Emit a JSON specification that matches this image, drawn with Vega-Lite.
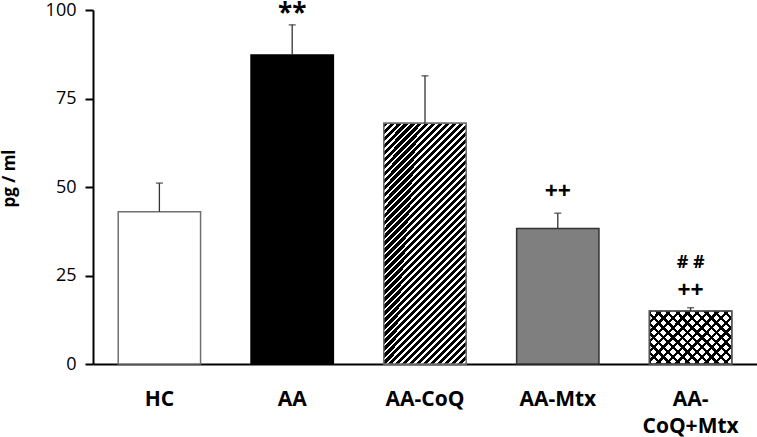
{
 "$schema": "https://vega.github.io/schema/vega-lite/v6.json",
 "width": 664, "height": 354,
 "autosize": "none",
 "padding": {"left": 93, "top": 10, "right": 0, "bottom": 73},
 "background": "white",
 "config": {
  "view": {"stroke": null},
  "font": "Open Sans",
  "axisX": {"domainColor": "black", "domainWidth": 2, "ticks": false, "labelFontSize": 21, "labelFontWeight": "bold", "labelColor": "black", "labelPadding": 24, "labelAngle": 0, "labelLineHeight": 27, "grid": false},
  "axisY": {"domainColor": "black", "domainWidth": 2, "ticks": true, "tickColor": "black", "tickWidth": 2, "tickSize": 8, "labelFontSize": 18, "labelColor": "black", "labelPadding": 9, "grid": false, "titleFontSize": 17, "titleFontWeight": "bold", "titleColor": "black", "titleX": -79, "titleY": 168, "titleBaseline": "alphabetic"}
 },
 "datasets": {
  "bars": [
   {"group": "HC", "mean": 43, "upper": 51.1},
   {"group": "AA", "mean": 87.3, "upper": 95.8},
   {"group": "AA-CoQ", "mean": 68, "upper": 81.4},
   {"group": "AA-Mtx", "mean": 38.3, "upper": 42.6},
   {"group": "AA-CoQ+Mtx", "mean": 15, "upper": 15.9}
  ],
  "notes": [
   {"group": "AA", "y": 98.8, "label": "**"},
   {"group": "AA-Mtx", "y": 48.6, "label": "++"},
   {"group": "AA-CoQ+Mtx", "y": 28.5, "label": "# #"},
   {"group": "AA-CoQ+Mtx", "y": 20.5, "label": "++"}
  ]
 },
 "encoding": {
  "x": {"field": "group", "type": "nominal", "sort": ["HC", "AA", "AA-CoQ", "AA-Mtx", "AA-CoQ+Mtx"], "title": null,
        "scale": {"paddingInner": 0.38, "paddingOuter": 0.19},
        "axis": {"labelExpr": "datum.value == 'AA-CoQ+Mtx' ? ['AA-', 'CoQ+Mtx'] : datum.label"}}
 },
 "layer": [
  {
   "data": {"name": "bars"},
   "mark": {"type": "bar", "strokeWidth": 1.5},
   "encoding": {
    "y": {"field": "mean", "type": "quantitative", "title": "pg / ml", "scale": {"domain": [0, 100], "nice": false}, "axis": {"values": [0, 25, 50, 75, 100]}},
    "fill": {"field": "group", "type": "nominal", "legend": null, "scale": {"domain": ["HC", "AA", "AA-CoQ", "AA-Mtx", "AA-CoQ+Mtx"], "range": ["#ffffff", "#000000", "#ffffff", "#7f7f7f", "#ffffff"]}},
    "stroke": {"field": "group", "type": "nominal", "legend": null, "scale": {"domain": ["HC", "AA", "AA-CoQ", "AA-Mtx", "AA-CoQ+Mtx"], "range": ["#707070", "#000000", "#707070", "#333333", "#555555"]}}
   }
  },
  {
   "data": {"name": "bars"},
   "transform": [{"filter": "datum.group == 'AA-CoQ'"}],
   "mark": {"type": "bar", "stroke": "#707070", "strokeWidth": 1.5,
    "fill": {"gradient": "linear", "x1": 0, "y1": 0, "x2": 0.4584, "y2": 1.3294, "stops": [
{"offset":0,"color":"#000"},{"offset":0.01172,"color":"#000"},{"offset":0.01172,"color":"#fff"},{"offset":0.01953,"color":"#fff"},
{"offset":0.01953,"color":"#000"},{"offset":0.03125,"color":"#000"},{"offset":0.03125,"color":"#fff"},{"offset":0.03906,"color":"#fff"},
{"offset":0.03906,"color":"#000"},{"offset":0.05078,"color":"#000"},{"offset":0.05078,"color":"#fff"},{"offset":0.05859,"color":"#fff"},
{"offset":0.05859,"color":"#000"},{"offset":0.07031,"color":"#000"},{"offset":0.07031,"color":"#fff"},{"offset":0.07813,"color":"#fff"},
{"offset":0.07813,"color":"#000"},{"offset":0.08984,"color":"#000"},{"offset":0.08984,"color":"#fff"},{"offset":0.09766,"color":"#fff"},
{"offset":0.09766,"color":"#000"},{"offset":0.10938,"color":"#000"},{"offset":0.10938,"color":"#fff"},{"offset":0.11719,"color":"#fff"},
{"offset":0.11719,"color":"#000"},{"offset":0.12891,"color":"#000"},{"offset":0.12891,"color":"#fff"},{"offset":0.13672,"color":"#fff"},
{"offset":0.13672,"color":"#000"},{"offset":0.14844,"color":"#000"},{"offset":0.14844,"color":"#fff"},{"offset":0.15625,"color":"#fff"},
{"offset":0.15625,"color":"#000"},{"offset":0.16797,"color":"#000"},{"offset":0.16797,"color":"#fff"},{"offset":0.17578,"color":"#fff"},
{"offset":0.17578,"color":"#000"},{"offset":0.1875,"color":"#000"},{"offset":0.1875,"color":"#fff"},{"offset":0.19531,"color":"#fff"},
{"offset":0.19531,"color":"#000"},{"offset":0.20703,"color":"#000"},{"offset":0.20703,"color":"#fff"},{"offset":0.21484,"color":"#fff"},
{"offset":0.21484,"color":"#000"},{"offset":0.22656,"color":"#000"},{"offset":0.22656,"color":"#fff"},{"offset":0.23438,"color":"#fff"},
{"offset":0.23438,"color":"#000"},{"offset":0.24609,"color":"#000"},{"offset":0.24609,"color":"#fff"},{"offset":0.25391,"color":"#fff"},
{"offset":0.25391,"color":"#000"},{"offset":0.26563,"color":"#000"},{"offset":0.26563,"color":"#fff"},{"offset":0.27344,"color":"#fff"},
{"offset":0.27344,"color":"#000"},{"offset":0.28516,"color":"#000"},{"offset":0.28516,"color":"#fff"},{"offset":0.29297,"color":"#fff"},
{"offset":0.29297,"color":"#000"},{"offset":0.30469,"color":"#000"},{"offset":0.30469,"color":"#fff"},{"offset":0.3125,"color":"#fff"},
{"offset":0.3125,"color":"#000"},{"offset":0.32422,"color":"#000"},{"offset":0.32422,"color":"#fff"},{"offset":0.33203,"color":"#fff"},
{"offset":0.33203,"color":"#000"},{"offset":0.34375,"color":"#000"},{"offset":0.34375,"color":"#fff"},{"offset":0.35156,"color":"#fff"},
{"offset":0.35156,"color":"#000"},{"offset":0.36328,"color":"#000"},{"offset":0.36328,"color":"#fff"},{"offset":0.37109,"color":"#fff"},
{"offset":0.37109,"color":"#000"},{"offset":0.38281,"color":"#000"},{"offset":0.38281,"color":"#fff"},{"offset":0.39063,"color":"#fff"},
{"offset":0.39063,"color":"#000"},{"offset":0.40234,"color":"#000"},{"offset":0.40234,"color":"#fff"},{"offset":0.41016,"color":"#fff"},
{"offset":0.41016,"color":"#000"},{"offset":0.42188,"color":"#000"},{"offset":0.42188,"color":"#fff"},{"offset":0.42969,"color":"#fff"},
{"offset":0.42969,"color":"#000"},{"offset":0.44141,"color":"#000"},{"offset":0.44141,"color":"#fff"},{"offset":0.44922,"color":"#fff"},
{"offset":0.44922,"color":"#000"},{"offset":0.46094,"color":"#000"},{"offset":0.46094,"color":"#fff"},{"offset":0.46875,"color":"#fff"},
{"offset":0.46875,"color":"#000"},{"offset":0.48047,"color":"#000"},{"offset":0.48047,"color":"#fff"},{"offset":0.48828,"color":"#fff"},
{"offset":0.48828,"color":"#000"},{"offset":0.5,"color":"#000"},{"offset":0.5,"color":"#fff"},{"offset":0.50781,"color":"#fff"},
{"offset":0.50781,"color":"#000"},{"offset":0.51953,"color":"#000"},{"offset":0.51953,"color":"#fff"},{"offset":0.52734,"color":"#fff"},
{"offset":0.52734,"color":"#000"},{"offset":0.53906,"color":"#000"},{"offset":0.53906,"color":"#fff"},{"offset":0.54688,"color":"#fff"},
{"offset":0.54688,"color":"#000"},{"offset":0.55859,"color":"#000"},{"offset":0.55859,"color":"#fff"},{"offset":0.56641,"color":"#fff"},
{"offset":0.56641,"color":"#000"},{"offset":0.57813,"color":"#000"},{"offset":0.57813,"color":"#fff"},{"offset":0.58594,"color":"#fff"},
{"offset":0.58594,"color":"#000"},{"offset":0.59766,"color":"#000"},{"offset":0.59766,"color":"#fff"},{"offset":0.60547,"color":"#fff"},
{"offset":0.60547,"color":"#000"},{"offset":0.61719,"color":"#000"},{"offset":0.61719,"color":"#fff"},{"offset":0.625,"color":"#fff"},
{"offset":0.625,"color":"#000"},{"offset":0.63672,"color":"#000"},{"offset":0.63672,"color":"#fff"},{"offset":0.64453,"color":"#fff"},
{"offset":0.64453,"color":"#000"},{"offset":0.65625,"color":"#000"},{"offset":0.65625,"color":"#fff"},{"offset":0.66406,"color":"#fff"},
{"offset":0.66406,"color":"#000"},{"offset":0.67578,"color":"#000"},{"offset":0.67578,"color":"#fff"},{"offset":0.68359,"color":"#fff"},
{"offset":0.68359,"color":"#000"},{"offset":0.69531,"color":"#000"},{"offset":0.69531,"color":"#fff"},{"offset":0.70313,"color":"#fff"},
{"offset":0.70313,"color":"#000"},{"offset":0.71484,"color":"#000"},{"offset":0.71484,"color":"#fff"},{"offset":0.72266,"color":"#fff"},
{"offset":0.72266,"color":"#000"},{"offset":0.73438,"color":"#000"},{"offset":0.73438,"color":"#fff"},{"offset":0.74219,"color":"#fff"},
{"offset":0.74219,"color":"#000"},{"offset":0.75391,"color":"#000"},{"offset":0.75391,"color":"#fff"},{"offset":0.76172,"color":"#fff"},
{"offset":0.76172,"color":"#000"},{"offset":0.77344,"color":"#000"},{"offset":0.77344,"color":"#fff"},{"offset":0.78125,"color":"#fff"},
{"offset":0.78125,"color":"#000"},{"offset":0.79297,"color":"#000"},{"offset":0.79297,"color":"#fff"},{"offset":0.80078,"color":"#fff"},
{"offset":0.80078,"color":"#000"},{"offset":0.8125,"color":"#000"},{"offset":0.8125,"color":"#fff"},{"offset":0.82031,"color":"#fff"},
{"offset":0.82031,"color":"#000"},{"offset":0.83203,"color":"#000"},{"offset":0.83203,"color":"#fff"},{"offset":0.83984,"color":"#fff"},
{"offset":0.83984,"color":"#000"},{"offset":0.85156,"color":"#000"},{"offset":0.85156,"color":"#fff"},{"offset":0.85938,"color":"#fff"},
{"offset":0.85938,"color":"#000"},{"offset":0.87109,"color":"#000"},{"offset":0.87109,"color":"#fff"},{"offset":0.87891,"color":"#fff"},
{"offset":0.87891,"color":"#000"},{"offset":0.89063,"color":"#000"},{"offset":0.89063,"color":"#fff"},{"offset":0.89844,"color":"#fff"},
{"offset":0.89844,"color":"#000"},{"offset":0.91016,"color":"#000"},{"offset":0.91016,"color":"#fff"},{"offset":0.91797,"color":"#fff"},
{"offset":0.91797,"color":"#000"},{"offset":0.92969,"color":"#000"},{"offset":0.92969,"color":"#fff"},{"offset":0.9375,"color":"#fff"}
    ]}},
   "encoding": {
    "y": {"field": "mean", "type": "quantitative", "title": "pg / ml"}
   }
  },
  {
   "data": {"name": "bars"},
   "transform": [{"filter": "datum.group == 'AA-CoQ+Mtx'"}],
   "mark": {"type": "bar", "strokeWidth": 0,
    "fill": {"gradient": "linear", "x1": 0, "y1": 0, "x2": 1.164, "y2": 0.743, "stops": [
{"offset":0,"color":"#000"},{"offset":0.025,"color":"#000"},{"offset":0.025,"color":"rgba(0,0,0,0)"},{"offset":0.0714,"color":"rgba(0,0,0,0)"},
{"offset":0.0714,"color":"#000"},{"offset":0.0964,"color":"#000"},{"offset":0.0964,"color":"rgba(0,0,0,0)"},{"offset":0.1429,"color":"rgba(0,0,0,0)"},
{"offset":0.1429,"color":"#000"},{"offset":0.1679,"color":"#000"},{"offset":0.1679,"color":"rgba(0,0,0,0)"},{"offset":0.2143,"color":"rgba(0,0,0,0)"},
{"offset":0.2143,"color":"#000"},{"offset":0.2393,"color":"#000"},{"offset":0.2393,"color":"rgba(0,0,0,0)"},{"offset":0.2857,"color":"rgba(0,0,0,0)"},
{"offset":0.2857,"color":"#000"},{"offset":0.3107,"color":"#000"},{"offset":0.3107,"color":"rgba(0,0,0,0)"},{"offset":0.3571,"color":"rgba(0,0,0,0)"},
{"offset":0.3571,"color":"#000"},{"offset":0.3821,"color":"#000"},{"offset":0.3821,"color":"rgba(0,0,0,0)"},{"offset":0.4286,"color":"rgba(0,0,0,0)"},
{"offset":0.4286,"color":"#000"},{"offset":0.4536,"color":"#000"},{"offset":0.4536,"color":"rgba(0,0,0,0)"},{"offset":0.5,"color":"rgba(0,0,0,0)"},
{"offset":0.5,"color":"#000"},{"offset":0.525,"color":"#000"},{"offset":0.525,"color":"rgba(0,0,0,0)"},{"offset":0.5714,"color":"rgba(0,0,0,0)"},
{"offset":0.5714,"color":"#000"},{"offset":0.5964,"color":"#000"},{"offset":0.5964,"color":"rgba(0,0,0,0)"},{"offset":0.6429,"color":"rgba(0,0,0,0)"},
{"offset":0.6429,"color":"#000"},{"offset":0.6679,"color":"#000"},{"offset":0.6679,"color":"rgba(0,0,0,0)"},{"offset":0.7143,"color":"rgba(0,0,0,0)"},
{"offset":0.7143,"color":"#000"},{"offset":0.7393,"color":"#000"},{"offset":0.7393,"color":"rgba(0,0,0,0)"},{"offset":0.7857,"color":"rgba(0,0,0,0)"},
{"offset":0.7857,"color":"#000"},{"offset":0.8107,"color":"#000"},{"offset":0.8107,"color":"rgba(0,0,0,0)"},{"offset":0.8571,"color":"rgba(0,0,0,0)"},
{"offset":0.8571,"color":"#000"},{"offset":0.8821,"color":"#000"},{"offset":0.8821,"color":"rgba(0,0,0,0)"},{"offset":0.9286,"color":"rgba(0,0,0,0)"},
{"offset":0.9286,"color":"#000"},{"offset":0.9536,"color":"#000"},{"offset":0.9536,"color":"rgba(0,0,0,0)"},{"offset":1,"color":"rgba(0,0,0,0)"}
    ]}},
   "encoding": {
    "y": {"field": "mean", "type": "quantitative", "title": "pg / ml"}
   }
  },
  {
   "data": {"name": "bars"},
   "transform": [{"filter": "datum.group == 'AA-CoQ+Mtx'"}],
   "mark": {"type": "bar", "stroke": "#555555", "strokeWidth": 1.5,
    "fill": {"gradient": "linear", "x1": 0, "y1": 1, "x2": 1.164, "y2": 0.257, "stops": [
{"offset":0,"color":"#000"},{"offset":0.025,"color":"#000"},{"offset":0.025,"color":"rgba(0,0,0,0)"},{"offset":0.0714,"color":"rgba(0,0,0,0)"},
{"offset":0.0714,"color":"#000"},{"offset":0.0964,"color":"#000"},{"offset":0.0964,"color":"rgba(0,0,0,0)"},{"offset":0.1429,"color":"rgba(0,0,0,0)"},
{"offset":0.1429,"color":"#000"},{"offset":0.1679,"color":"#000"},{"offset":0.1679,"color":"rgba(0,0,0,0)"},{"offset":0.2143,"color":"rgba(0,0,0,0)"},
{"offset":0.2143,"color":"#000"},{"offset":0.2393,"color":"#000"},{"offset":0.2393,"color":"rgba(0,0,0,0)"},{"offset":0.2857,"color":"rgba(0,0,0,0)"},
{"offset":0.2857,"color":"#000"},{"offset":0.3107,"color":"#000"},{"offset":0.3107,"color":"rgba(0,0,0,0)"},{"offset":0.3571,"color":"rgba(0,0,0,0)"},
{"offset":0.3571,"color":"#000"},{"offset":0.3821,"color":"#000"},{"offset":0.3821,"color":"rgba(0,0,0,0)"},{"offset":0.4286,"color":"rgba(0,0,0,0)"},
{"offset":0.4286,"color":"#000"},{"offset":0.4536,"color":"#000"},{"offset":0.4536,"color":"rgba(0,0,0,0)"},{"offset":0.5,"color":"rgba(0,0,0,0)"},
{"offset":0.5,"color":"#000"},{"offset":0.525,"color":"#000"},{"offset":0.525,"color":"rgba(0,0,0,0)"},{"offset":0.5714,"color":"rgba(0,0,0,0)"},
{"offset":0.5714,"color":"#000"},{"offset":0.5964,"color":"#000"},{"offset":0.5964,"color":"rgba(0,0,0,0)"},{"offset":0.6429,"color":"rgba(0,0,0,0)"},
{"offset":0.6429,"color":"#000"},{"offset":0.6679,"color":"#000"},{"offset":0.6679,"color":"rgba(0,0,0,0)"},{"offset":0.7143,"color":"rgba(0,0,0,0)"},
{"offset":0.7143,"color":"#000"},{"offset":0.7393,"color":"#000"},{"offset":0.7393,"color":"rgba(0,0,0,0)"},{"offset":0.7857,"color":"rgba(0,0,0,0)"},
{"offset":0.7857,"color":"#000"},{"offset":0.8107,"color":"#000"},{"offset":0.8107,"color":"rgba(0,0,0,0)"},{"offset":0.8571,"color":"rgba(0,0,0,0)"},
{"offset":0.8571,"color":"#000"},{"offset":0.8821,"color":"#000"},{"offset":0.8821,"color":"rgba(0,0,0,0)"},{"offset":0.9286,"color":"rgba(0,0,0,0)"},
{"offset":0.9286,"color":"#000"},{"offset":0.9536,"color":"#000"},{"offset":0.9536,"color":"rgba(0,0,0,0)"},{"offset":1,"color":"rgba(0,0,0,0)"}
    ]}},
   "encoding": {
    "y": {"field": "mean", "type": "quantitative", "title": "pg / ml"}
   }
  },
  {
   "data": {"name": "bars"},
   "mark": {"type": "rule", "color": "#333333", "strokeWidth": 1.3},
   "encoding": {
    "y": {"field": "mean", "type": "quantitative", "title": "pg / ml"},
    "y2": {"field": "upper"}
   }
  },
  {
   "data": {"name": "bars"},
   "mark": {"type": "tick", "color": "#333333", "size": 7, "thickness": 1.5},
   "encoding": {
    "y": {"field": "upper", "type": "quantitative", "title": "pg / ml"}
   }
  },
  {
   "data": {"name": "notes"},
   "transform": [{"filter": "datum.label == '**'"}],
   "mark": {"type": "text", "fontWeight": "bold", "fontSize": 26, "color": "black", "baseline": "middle", "align": "center"},
   "encoding": {
    "y": {"field": "y", "type": "quantitative", "title": "pg / ml"},
    "text": {"field": "label"}
   }
  },
  {
   "data": {"name": "notes"},
   "transform": [{"filter": "datum.label == '++'"}],
   "mark": {"type": "text", "fontWeight": "bold", "fontSize": 23, "color": "black", "baseline": "middle", "align": "center"},
   "encoding": {
    "y": {"field": "y", "type": "quantitative", "title": "pg / ml"},
    "text": {"field": "label"}
   }
  },
  {
   "data": {"name": "notes"},
   "transform": [{"filter": "datum.label == '# #'"}],
   "mark": {"type": "text", "fontWeight": "bold", "fontSize": 18, "color": "black", "baseline": "middle", "align": "center"},
   "encoding": {
    "y": {"field": "y", "type": "quantitative", "title": "pg / ml"},
    "text": {"field": "label"}
   }
  }
 ]
}
